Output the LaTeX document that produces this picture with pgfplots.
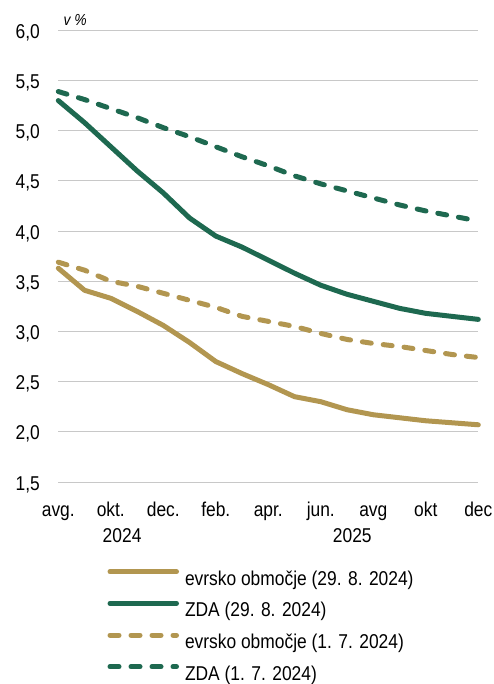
\documentclass[border=0pt]{standalone}
\usepackage{fontspec}
\setmainfont{Liberation Sans}[FakeStretch=0.87]
\usepackage{pgfplots}
\pgfplotsset{compat=1.18}
\definecolor{evro}{HTML}{B29650}
\definecolor{zda}{HTML}{1E6950}
\definecolor{mreza}{HTML}{C8C8C8}

\begin{document}
\begin{tikzpicture}
\useasboundingbox (-58.3pt,-202pt) rectangle (435.7pt,482pt);
\begin{axis}[
  scale only axis,
  width=420pt, height=451.7pt,
  xmin=0, xmax=16, ymin=1.5, ymax=6.0,
  clip=false,
  xtick={0,2,4,6,8,10,12,14,16},
  xticklabels={avg., okt., dec., feb., apr., jun., avg, okt, dec},
  ytick={1.5,2,2.5,3,3.5,4,4.5,5,5.5,6},
  ymajorgrids, grid style={mreza, line width=1pt},
  axis line style={draw=none},
  major tick length=0pt,
  tick label style={font=\fontsize{20}{24}\selectfont},
  /pgf/number format/use comma,
  /pgf/number format/fixed,
  /pgf/number format/fixed zerofill,
  /pgf/number format/precision=1,
  /pgf/number format/assume math mode=true,
  xticklabel style={anchor=base, inner sep=0pt, yshift=-34.7pt},
  yticklabel style={anchor=base east, inner sep=0pt, xshift=-18.3pt, yshift=-8pt},
  every axis plot/.append style={line width=5pt, line cap=round, line join=round},
  legend cell align=left,
  legend image code/.code={\draw[#1] (0pt,7pt) -- (66.5pt,7pt);},
  legend style={draw=none, fill=none, at={(axis description cs:0,0)}, anchor=north west,
    xshift=46pt, yshift=-85pt, row sep=14.2pt, column sep=0pt,
    nodes={inner sep=0pt},
    font=\fontsize{20}{24}\selectfont},
]
\addplot[evro] coordinates {
  (0,3.63) (1,3.41) (2,3.33) (3,3.20) (4,3.06) (5,2.89) (6,2.70) (7,2.58) (8,2.47)
  (9,2.35) (10,2.30) (11,2.22) (12,2.17) (13,2.14) (14,2.11) (15,2.09) (16,2.07)};
\addlegendentry{\hspace{6pt}evrsko območje (29. 8. 2024)}
\addplot[zda] coordinates {
  (0,5.30) (1,5.08) (2,4.84) (3,4.60) (4,4.38) (5,4.13) (6,3.95) (7,3.84) (8,3.71)
  (9,3.58) (10,3.46) (11,3.37) (12,3.30) (13,3.23) (14,3.18) (15,3.15) (16,3.12)};
\addlegendentry{\hspace{6pt}ZDA (29. 8. 2024)}
\addplot[evro, dash pattern=on 9pt off 12pt] coordinates {
  (0,3.69) (1,3.61) (2,3.50) (3,3.45) (4,3.38) (5,3.31) (6,3.24) (7,3.15) (8,3.10)
  (9,3.05) (10,2.98) (11,2.92) (12,2.88) (13,2.85) (14,2.81) (15,2.77) (16,2.74)};
\addlegendentry{\hspace{6pt}evrsko območje (1. 7. 2024)}
\addplot[zda, dash pattern=on 9pt off 12pt] coordinates {
  (0,5.39) (1,5.31) (2,5.22) (3,5.13) (4,5.03) (5,4.94) (6,4.84) (7,4.74) (8,4.65)
  (9,4.55) (10,4.47) (11,4.40) (12,4.33) (13,4.26) (14,4.20) (15,4.15) (16,4.10)};
\addlegendentry{\hspace{6pt}ZDA (1. 7. 2024)}
\node[anchor=base west, inner sep=0pt, font=\fontsize{16}{18}\selectfont\itshape]
  at (axis cs:0,6.0) [xshift=5pt, yshift=5pt] {v \%};
\node[anchor=base, inner sep=0pt, font=\fontsize{20}{24}\selectfont]
  at (axis cs:2.43,1.5) [yshift=-60pt] {2024};
\node[anchor=base, inner sep=0pt, font=\fontsize{20}{24}\selectfont]
  at (axis cs:11.2,1.5) [yshift=-60pt] {2025};
\end{axis}
\end{tikzpicture}
\end{document}
